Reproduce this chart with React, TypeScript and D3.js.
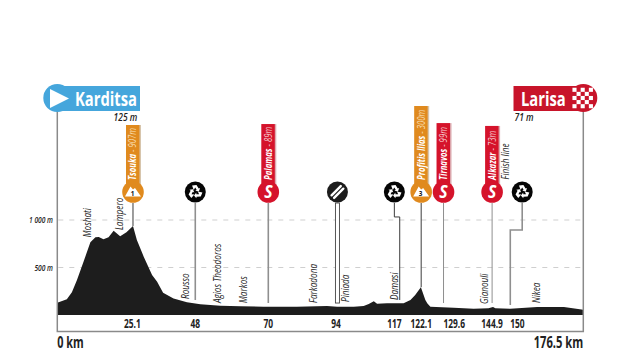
import React from "react";
import * as d3 from "d3";

const profileKm = [0,3.2,4.9,6.6,8.8,11.1,12.8,13.9,15.5,17.2,18.9,21.1,23.2,25.4,26.7,29,31.8,33.5,35.5,39,43.5,48,54.7,61.4,69.2,80.4,90.5,93.9,99.5,102.8,104.5,106.2,107.3,110.6,116.2,118.5,120.1,122,123.5,124.2,125.2,133,139.7,144.7,146.2,147,152,161,170,176.5];
const profileElev = [130,165,239,368,561,765,818,821,797,818,888,828,870,937,789,614,421,351,235,175,134,113,98,91,88,86,95,88,88,95,116,144,119,123,123,158,211,292,158,120,88,77,66,70,84,70,66,84,84,55];

const gridLevels = [1000, 500];
const gridLabels = ["1 000 m", "500 m"];

const placeNames = ["Moshati","Lampero","Rousso","Agios Theodoros","Markos","Farkadona","Piniada","Damasi","Gianouli","Nikea","Finish line"];
const placeKm = [10.4,21,43,54,62.7,86,96.7,113.4,143.6,161,150.4];
const placeBaseElev = [818,894,168,126,126,126,137,158,116,126,1426];

const tickLabels = ["25.1","48","70","94","117","122.1","129.6","144.9","150"];
const tickKm = [25.2,46.3,70.8,93.5,113.1,122.1,133.2,145.9,154.4];

const stopKinds = ["climb1","feed","sprint","food","feed","climb3","sprint","sprint","feed"];
const stopNames = ["Tsouka","","Palamas","","","Profitis Ilias","Tirnavos","Alkazar",""];
const stopAltitude = ["907m","","89m","","","300m","99m","73m",""];
const stopKm = [25.4,46.3,70.8,94,113.1,122.1,129.6,145.9,156];
const stemEndElev = [937,158,126,126,158,292,126,126,105];
const stemKneeKm = [NaN,NaN,NaN,NaN,114.9,NaN,NaN,NaN,152];
const stemKneeElev = [NaN,NaN,NaN,NaN,1032,NaN,NaN,NaN,895];
const flagTopElev = [2000,NaN,2010,NaN,NaN,2200,2020,1990,NaN];

const startName = "Karditsa";
const finishName = "Larisa";
const startAlt = "125 m";
const finishAlt = "71 m";
const totalKm = 176.5;

const FONT = "'Open Sans','Liberation Sans',sans-serif";
const SX = 0.68;
const W = 640, H = 354;
const ORANGE = "#E08A1E", RED = "#D5132B", BLUE = "#45A6DC", DARK = "#1d1d1d";

const x = d3.scaleLinear().domain([0, totalKm]).range([57.3, 583.3]);
const y = d3.scaleLinear().domain([0, 1000]).range([315, 220]);
const area = d3.area<number>().x((_, i) => x(profileKm[i])).y0(y(0)).y1((d) => y(d));

const ICON_Y = 192;

function T({ x: tx, y: ty, rot = 0, sx = SX, children, ...rest }: any) {
  return (
    <text transform={`translate(${tx},${ty}) rotate(${rot}) scale(${sx},1)`} fontFamily={FONT} {...rest}>{children}</text>
  );
}

function Recycle({ cx }: { cx: number }) {
  return (
    <g transform={`translate(${cx},${ICON_Y})`}>
      <circle r={10.5} fill="#050505" />
      {[0, 120, 240].map((a) => (
        <g key={a} transform={`rotate(${a})`}>
          <path d="M-3.2,-6.4 L1.2,-7 L3.4,-3.4 L4.8,-4 L3.6,-0.6 L0,-1.2 L1.4,-2 L0,-4.4 L-1.6,-2 Z" fill="#fff" />
        </g>
      ))}
    </g>
  );
}

function Food({ cx }: { cx: number }) {
  return (
    <g transform={`translate(${cx},${ICON_Y})`}>
      <circle r={10.5} fill="#1c1c1c" />
      <g transform="rotate(45)" stroke="#fff" strokeLinecap="round" fill="none">
        <path d="M-1.8,-6.5 V6.5" strokeWidth={2.4} />
        <path d="M1.8,-6.5 V6.5" strokeWidth={2.4} />
      </g>
    </g>
  );
}

function BarLabel({ cx, name, alt, color }: { cx: number; name: string; alt: string; color: string }) {
  return (
    <T x={cx + 3.4} y={180} rot={-90} sx={0.74} fontStyle="italic" fontSize={10.5} fill="#fff">
      <tspan fontWeight={700}>{name}</tspan>
      <tspan fill={color}>{` - ${alt}`}</tspan>
    </T>
  );
}

function Sprint({ cx, topY, name, alt }: { cx: number; topY: number; name: string; alt: string }) {
  return (
    <g>
      <rect x={cx - 6} y={topY} width={14} height={ICON_Y - topY} fill="#9c1220" opacity={0.35} />
      <rect x={cx - 7} y={topY} width={13.5} height={ICON_Y - topY} fill={RED} />
      <circle cx={cx} cy={ICON_Y} r={10.8} fill={RED} />
      <T x={cx} y={ICON_Y + 6.4} sx={0.9} textAnchor="middle" fontWeight={700} fontStyle="italic" fontSize={17.5} fill="#fff">S</T>
      <BarLabel cx={cx} name={name} alt={alt} color="#f6c9cd" />
    </g>
  );
}

function Climb({ cx, topY, name, alt, cat }: { cx: number; topY: number; name: string; alt: string; cat: string }) {
  return (
    <g>
      <rect x={cx - 6} y={topY} width={14} height={ICON_Y - topY} fill="#8d5a12" opacity={0.35} />
      <rect x={cx - 7} y={topY} width={13.5} height={ICON_Y - topY} fill={ORANGE} />
      <circle cx={cx} cy={ICON_Y} r={10.8} fill={ORANGE} />
      <path d={`M${cx - 8},${ICON_Y + 4.5} L${cx - 2.5},${ICON_Y - 5.5} L${cx},${ICON_Y - 2.5} L${cx + 2},${ICON_Y - 4} L${cx + 8},${ICON_Y + 4.5} Z`} fill="#fff" />
      <T x={cx - 0.5} y={ICON_Y + 4} sx={0.85} textAnchor="middle" fontWeight={700} fontSize={7.5} fill="#111">{cat}</T>
      <BarLabel cx={cx} name={name} alt={alt} color="#f8dcae" />
    </g>
  );
}

export default function App() {
  const checks: React.ReactNode[] = [];
  const cs = 4.1;
  for (let r = 0; r < 5; r++) {
    for (let c = 0; c < 5; c++) {
      if ((r + c) % 2 === 0) {
        checks.push(<rect key={`${r}-${c}`} x={582.7 - 2.5 * cs + c * cs} y={98 - 2.5 * cs + r * cs} width={cs} height={cs} fill="#fff" />);
      }
    }
  }
  return (
    <svg width={W} height={H} viewBox={`0 0 ${W} ${H}`} style={{ position: "absolute", left: 0, top: 0, background: "#fff" }}>
      {gridLevels.map((lv, i) => (
        <g key={lv}>
          <line x1={x(0) + 1} x2={x(totalKm)} y1={y(lv)} y2={y(lv)} stroke="#cfcfcf" strokeWidth={1} strokeDasharray="5 6" />
          <T x={53} y={y(lv) + 3} sx={0.78} textAnchor="end" fontStyle="italic" fontWeight={600} fontSize={8.5} fill="#222">{gridLabels[i]}</T>
        </g>
      ))}

      <path d={area(profileElev) ?? ""} fill={DARK} />

      <path d={`M${x(0)},104 V331.5 H${x(totalKm)} V104`} fill="none" stroke="#8a8a8a" strokeWidth={1.5} />

      {stopKinds.map((k, i) => {
        const cx = x(stopKm[i]);
        const end = y(stemEndElev[i]);
        const gray = k === "sprint" || i === 1 || i === 8;
        if (k === "food") {
          return <rect key={i} x={cx - 2} y={203} width={4} height={end - 203} fill="#fff" stroke="#444" strokeWidth={0.9} />;
        }
        const knee = !Number.isNaN(stemKneeKm[i]);
        const d = knee
          ? `M${cx},203 V${y(stemKneeElev[i])} H${x(stemKneeKm[i])} V${end}`
          : `M${cx},203 V${end}`;
        return <path key={i} d={d} fill="none" stroke={gray ? "#8f8f8f" : "#3c3c3c"} strokeWidth={i === 2 || i === 1 || i === 8 ? 1.6 : 1} />;
      })}

      {stopKinds.map((k, i) => {
        const cx = x(stopKm[i]);
        if (k === "feed") return <Recycle key={i} cx={cx} />;
        if (k === "food") return <Food key={i} cx={cx} />;
        if (k === "sprint") return <Sprint key={i} cx={cx} topY={y(flagTopElev[i])} name={stopNames[i]} alt={stopAltitude[i]} />;
        return <Climb key={i} cx={cx} topY={y(flagTopElev[i])} name={stopNames[i]} alt={stopAltitude[i]} cat={k.slice(-1)} />;
      })}

      {placeNames.map((n, i) => (
        <T key={n} x={x(placeKm[i]) + 3.2} y={y(placeBaseElev[i])} rot={-90} sx={0.78} fontStyle="italic" fontSize={10.5} fill="#222">{n}</T>
      ))}

      {tickLabels.map((t, i) => (
        <T key={t} x={x(tickKm[i])} y={327.5} sx={0.7} textAnchor="middle" fontWeight={700} fontSize={12} fill="#222">{t}</T>
      ))}
      <T x={x(0)} y={348} fontWeight={700} fontSize={16} fill="#222">0 km</T>
      <T x={x(totalKm)} y={348} textAnchor="end" sx={0.7} fontWeight={700} fontSize={16} fill="#222">{`${totalKm} km`}</T>

      <rect x={57} y={86} width={83} height={25} fill={BLUE} />
      <circle cx={x(0)} cy={98} r={14} fill={BLUE} />
      <path d="M50,89 L50,108 L69,98.5 Z" fill="#fff" />
      <T x={75} y={105.5} sx={0.74} fontWeight={700} fontSize={20} fill="#fff">{startName}</T>
      <T x={125.5} y={121} sx={0.85} textAnchor="middle" fontStyle="italic" fontSize={10} fontWeight={600} fill="#222">{startAlt}</T>

      <rect x={513.5} y={86} width={69} height={25} fill="#C8142A" />
      <circle cx={x(totalKm)} cy={98} r={14} fill="#C8142A" />
      <g>{checks}</g>
      <T x={521} y={105.5} sx={0.74} fontWeight={700} fontSize={20} fill="#fff">{finishName}</T>
      <T x={524} y={121} sx={0.85} textAnchor="middle" fontStyle="italic" fontSize={10} fontWeight={600} fill="#222">{finishAlt}</T>
    </svg>
  );
}
